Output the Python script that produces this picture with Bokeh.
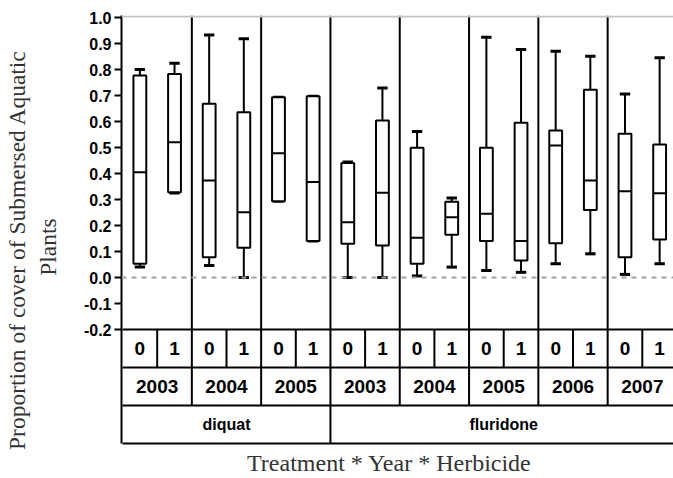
from bokeh.plotting import figure
from bokeh.models import Range1d, FixedTicker, PrintfTickFormatter, ColumnDataSource, Span
from bokeh.core.properties import value
from bokeh.embed import file_html
from bokeh.resources import INLINE

# ---------------- data ----------------
herbicide_labels = ["diquat", "fluridone"]
herbicide_years = [["2003", "2004", "2005"],
                   ["2003", "2004", "2005", "2006", "2007"]]
treatments = ["0", "1"]

whisker_low = [0.040, 0.325, 0.046, 0.000, 0.293, 0.140,
               0.000, 0.000, 0.006, 0.040, 0.027, 0.020, 0.053, 0.091, 0.012, 0.053]
q1 = [0.053, 0.328, 0.078, 0.114, 0.293, 0.140,
      0.130, 0.123, 0.053, 0.164, 0.140, 0.065, 0.132, 0.260, 0.078, 0.146]
median = [0.405, 0.520, 0.373, 0.251, 0.478, 0.367,
          0.213, 0.326, 0.153, 0.232, 0.245, 0.140, 0.508, 0.373, 0.332, 0.324]
q3 = [0.777, 0.783, 0.668, 0.636, 0.693, 0.697,
      0.440, 0.604, 0.499, 0.291, 0.499, 0.595, 0.565, 0.722, 0.553, 0.512]
whisker_high = [0.800, 0.824, 0.933, 0.918, 0.693, 0.697,
                0.444, 0.729, 0.562, 0.306, 0.924, 0.877, 0.870, 0.851, 0.706, 0.845]

y_ticks = [-0.2, -0.1, 0.0, 0.1, 0.2, 0.3, 0.4, 0.5, 0.6, 0.7, 0.8, 0.9, 1.0]
y_title = "Proportion of cover of  Submersed Aquatic\nPlants"
x_title = "Treatment * Year * Herbicide"

# ---------------- layout constants ----------------
Y_TOP = 1.0077
Y_BOTTOM = -0.773
ROW_EDGES = [-0.2, -0.346, -0.492, -0.638]   # table row lines
BOX_W = 0.37
CAP_W = 0.30
X_END = 15.9

# positions
xs, treat_lbl = [], []
year_x, year_lbl, year_edges = [], [], []
herb_x, herb_edges = [], []
idx = 0
for h, yrs in zip(herbicide_labels, herbicide_years):
    h_start = idx
    for yr in yrs:
        y_start = idx
        for t in treatments:
            xs.append(idx + 0.5)
            treat_lbl.append(t)
            idx += 1
        year_x.append((y_start + idx) / 2)
        year_lbl.append(yr)
        year_edges.append(idx)
    herb_x.append((h_start + idx) / 2)
    herb_edges.append(idx)

src = ColumnDataSource(dict(
    x=xs, low=whisker_low, q1=q1, med=median, q3=q3, high=whisker_high,
    left=[x - BOX_W / 2 for x in xs], right=[x + BOX_W / 2 for x in xs],
    cl=[x - CAP_W / 2 for x in xs], cr=[x + CAP_W / 2 for x in xs],
))

p = figure(width=673, height=478, output_backend="svg", toolbar_location=None,
           x_range=Range1d(-0.03, X_END), y_range=Range1d(Y_BOTTOM, Y_TOP),
           min_border_left=121, min_border_right=0, min_border_top=15, min_border_bottom=0)
p.xaxis.visible = False
p.grid.visible = False
p.outline_line_color = None
p.background_fill_color = "white"
p.border_fill_color = "white"

ax = p.yaxis[0]
ax.ticker = FixedTicker(ticks=y_ticks)
ax.formatter = PrintfTickFormatter(format="%.1f")
ax.bounds = (ROW_EDGES[-1], Y_TOP)
ax.axis_line_width = 2
ax.axis_line_color = "black"
ax.major_tick_line_width = 2
ax.major_tick_out = 7
ax.major_tick_in = 0
ax.minor_tick_out = 0
ax.minor_tick_in = 0
ax.major_label_standoff = 3
ax.major_label_text_font = "Liberation Sans"
ax.major_label_text_font_style = "bold"
ax.major_label_text_font_size = "16px"
ax.major_label_text_color = "black"
ax.axis_label = y_title
ax.axis_label_text_font = "Liberation Serif"
ax.axis_label_text_font_style = "normal"
ax.axis_label_text_font_size = "23.5px"
ax.axis_label_text_color = "#333333"
ax.axis_label_standoff = 20

# zero reference line and top border
p.add_layout(Span(location=0, dimension="width", line_color="#a0a0a0",
                  line_dash="5 5", line_width=2))
p.add_layout(Span(location=1.004, dimension="width", line_color="#c4c4c4", line_width=2))

# group separators (years) through plot and year row
sep_year = [e for e in year_edges if e not in herb_edges]
p.segment(x0=sep_year, y0=[Y_TOP] * len(sep_year), x1=sep_year, y1=[ROW_EDGES[2]] * len(sep_year),
          line_color="black", line_width=2)
p.segment(x0=herb_edges, y0=[Y_TOP] * len(herb_edges), x1=herb_edges,
          y1=[ROW_EDGES[3]] * len(herb_edges), line_color="black", line_width=2)
# treatment cell separators
inner = [x + 0.5 for x in xs[::2]]
p.segment(x0=inner, y0=[ROW_EDGES[0]] * len(inner), x1=inner, y1=[ROW_EDGES[1]] * len(inner),
          line_color="black", line_width=2)
# horizontal table lines
p.segment(x0=[0] * 4, y0=ROW_EDGES, x1=[X_END + 1] * 4, y1=ROW_EDGES,
          line_color="black", line_width=2)

# boxplots
p.segment(x0="x", y0="q3", x1="x", y1="high", source=src, line_color="black", line_width=2)
p.segment(x0="x", y0="low", x1="x", y1="q1", source=src, line_color="black", line_width=2)
p.segment(x0="cl", y0="high", x1="cr", y1="high", source=src, line_color="black", line_width=3)
p.segment(x0="cl", y0="low", x1="cr", y1="low", source=src, line_color="black", line_width=3)
p.quad(left="left", right="right", bottom="q1", top="q3", source=src,
       fill_color="white", line_color="black", line_width=2)
p.segment(x0="left", y0="med", x1="right", y1="med", source=src, line_color="black", line_width=2)

# table texts
def row_mid(i):
    return (ROW_EDGES[i] + ROW_EDGES[i + 1]) / 2

p.text(x=xs, y=[row_mid(0)] * len(xs), text=treat_lbl, text_font=value("Liberation Sans"),
       text_font_style="bold", text_font_size="19px", text_align="center",
       text_baseline="middle", text_color="black")
p.text(x=year_x, y=[row_mid(1)] * len(year_x), text=year_lbl, text_font=value("Liberation Sans"),
       text_font_style="bold", text_font_size="19px", text_align="center",
       text_baseline="middle", text_color="black")
p.text(x=herb_x, y=[row_mid(2)] * len(herb_x), text=herbicide_labels,
       text_font=value("Liberation Sans"), text_font_style="bold", text_font_size="16px",
       text_align="center", text_baseline="middle", text_color="black")
p.text(x=[7.7], y=[-0.712], text=[x_title], text_font=value("Liberation Serif"),
       text_font_size="24px", text_align="center", text_baseline="middle", text_color="#333333")

open("out.html", "w").write(file_html(p, INLINE))
